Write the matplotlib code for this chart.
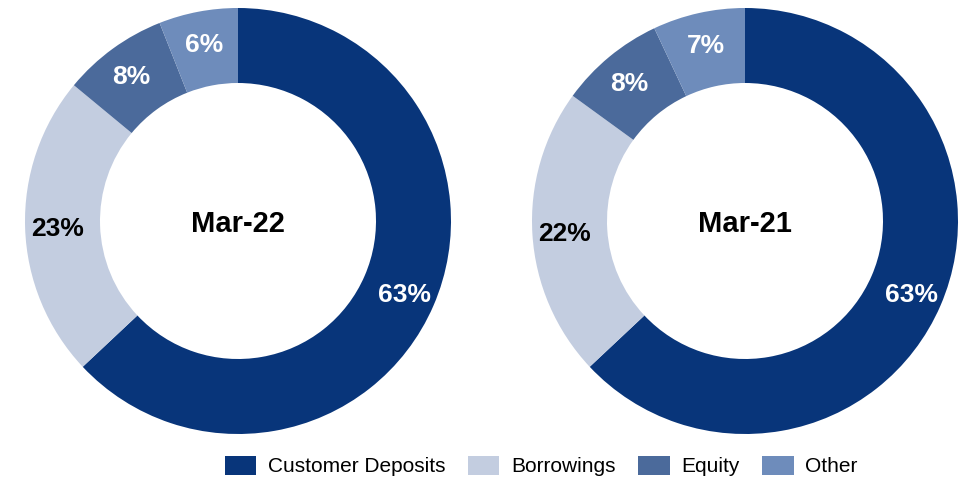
import matplotlib
matplotlib.use("Agg")
import matplotlib.pyplot as plt
from matplotlib.patches import Patch
import numpy as np

plt.rcParams['font.family'] = ['Liberation Sans', 'DejaVu Sans']

categories = ["Customer Deposits", "Borrowings", "Equity", "Other"]
periods = ["Mar-22", "Mar-21"]
mar22 = [63, 23, 8, 6]
mar21 = [63, 22, 8, 7]
colors = ["#08357A", "#C3CDE0", "#4B6A9B", "#6E8CBB"]
label_colors = ["white", "black", "white", "white"]

W, H = 963, 480
fig = plt.figure(figsize=(W / 100, H / 100), dpi=100)
ax = fig.add_axes([0, 0, 1, 1])

centers = [(238, 259), (745, 259)]
r_out = 213
ring = 75
label_r = 181

for values, period, (cx, cy) in zip([mar22, mar21], periods, centers):
    ax.pie(values, colors=colors, startangle=90, counterclock=False,
           center=(cx, cy), radius=r_out,
           wedgeprops=dict(width=ring, linewidth=0), frame=True)
    total = sum(values)
    start = 90.0
    for v, tc in zip(values, label_colors):
        span = v / total * 360
        mid = np.deg2rad(start - span / 2)
        ax.text(cx + label_r * np.cos(mid), cy + label_r * np.sin(mid) - 2, f"{v}%",
                ha="center", va="center", fontsize=19, fontweight="bold", color=tc)
        start -= span
    ax.text(cx, cy - 3, period, ha="center", va="center", fontsize=21,
            fontweight="bold", color="black")

ax.set_xlim(0, W)
ax.set_ylim(0, H)
ax.set_aspect("equal")
ax.axis("off")

handles = [Patch(facecolor=c, edgecolor="none") for c in colors]
fig.legend(handles, categories, loc="center left", bbox_to_anchor=(225 / W, 1 - 466 / H),
           ncol=4, frameon=False, fontsize=15, handlelength=1.5, handleheight=1.06,
           handletextpad=0.55, columnspacing=1.1, borderpad=0, borderaxespad=0)

fig.savefig("out.png", dpi=100)
